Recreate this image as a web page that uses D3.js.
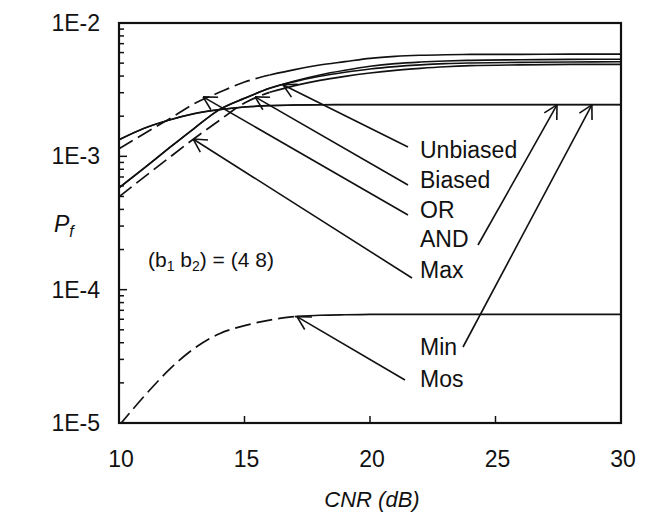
<!DOCTYPE html>
<html><head><meta charset="utf-8">
<script src="https://cdn.jsdelivr.net/npm/d3@7"></script>
<style>
html,body{margin:0;padding:0;background:#fff;}
text{font-family:"Liberation Sans",Arial,Helvetica,sans-serif;fill:#111;}
</style></head>
<body><svg id="chart" width="649" height="516"></svg>
<script>
// ---- data ----
const cnrDb = [10,11,12,13,14,15,16,17,18,19,20,21,22,23,24,26,28,30];
const unbiased = [5.81e-4,8.17e-4,1.156e-3,1.622e-3,2.239e-3,2.723e-3,3.236e-3,3.673e-3,4.074e-3,4.416e-3,4.732e-3,4.955e-3,5.093e-3,5.188e-3,5.248e-3,5.297e-3,5.333e-3,5.346e-3];
const biased   = [5.81e-4,8.17e-4,1.156e-3,1.622e-3,2.239e-3,2.723e-3,3.236e-3,3.631e-3,3.981e-3,4.266e-3,4.519e-3,4.710e-3,4.853e-3,4.955e-3,5.012e-3,5.070e-3,5.105e-3,5.117e-3];
const orRule   = [1.138e-3,1.479e-3,1.905e-3,2.483e-3,3.020e-3,3.606e-3,4.074e-3,4.467e-3,4.842e-3,5.129e-3,5.433e-3,5.623e-3,5.728e-3,5.781e-3,5.808e-3,5.821e-3,5.834e-3,5.834e-3];
const andRule  = [1.33e-3,1.622e-3,1.871e-3,2.089e-3,2.239e-3,2.344e-3,2.399e-3,2.427e-3,2.438e-3,2.443e-3,2.443e-3,2.443e-3,2.443e-3,2.443e-3,2.443e-3,2.443e-3,2.443e-3,2.443e-3];
const maxRule  = [4.977e-4,6.982e-4,9.772e-4,1.361e-3,1.862e-3,2.512e-3,3.020e-3,3.388e-3,3.715e-3,3.981e-3,4.217e-3,4.416e-3,4.571e-3,4.699e-3,4.786e-3,4.853e-3,4.887e-3,4.898e-3];
const minRule  = [1.33e-3,1.622e-3,1.871e-3,2.089e-3,2.239e-3,2.344e-3,2.399e-3,2.427e-3,2.438e-3,2.443e-3,2.443e-3,2.443e-3,2.443e-3,2.443e-3,2.443e-3,2.443e-3,2.443e-3,2.443e-3];
const mosRule  = [9.55e-6,1.585e-5,2.512e-5,3.631e-5,4.677e-5,5.370e-5,5.916e-5,6.281e-5,6.427e-5,6.486e-5,6.516e-5,6.531e-5,6.531e-5,6.531e-5,6.531e-5,6.531e-5,6.531e-5,6.531e-5];
const xTicks = [10,15,20,25,30];
const yTickLabels = ["1E-5","1E-4","1E-3","1E-2"];
const yDecades = [1e-5,1e-4,1e-3,1e-2];
// arrow tips [dB, Pf]
const tipUnbiased = [16.53, 3.44e-3], tipBiased = [15.42, 2.79e-3], tipOR = [13.35, 2.79e-3],
      tipMax = [12.95, 1.35e-3], tipAND = [27.45, 2.43e-3], tipMin = [28.84, 2.43e-3], tipMos = [17.09, 6.28e-5];

// ---- layout ----
const svg = d3.select("#chart");
const L = 119, R = 621, T = 23, B = 423;
const x = d3.scaleLinear().domain([10,30]).range([L,R]);
const y = d3.scaleLog().domain([1e-5,1e-2]).range([B,T]);

svg.append("clipPath").attr("id","clip").append("rect")
  .attr("x",L).attr("y",T).attr("width",R-L).attr("height",B-T);

const line = d3.line().x(d=>x(d[0])).y(d=>y(d[1])).curve(d3.curveMonotoneX);
const g = svg.append("g").attr("clip-path","url(#clip)");

function drawSeries(vals, dashUntil, sw){
  const pts = cnrDb.map((d,i)=>[d, vals[i]]);
  if (dashUntil == null) {
    g.append("path").attr("d", line(pts)).attr("fill","none").attr("stroke","#111").attr("stroke-width",sw||1.6);
  } else {
    const a = pts.filter(p=>p[0]<=dashUntil), b = pts.filter(p=>p[0]>=dashUntil);
    g.append("path").attr("d", line(a)).attr("fill","none").attr("stroke","#111").attr("stroke-width",sw||1.6).attr("stroke-dasharray","16,6");
    g.append("path").attr("d", line(b)).attr("fill","none").attr("stroke","#111").attr("stroke-width",sw||1.6);
  }
}
drawSeries(andRule, null, 1.7);
drawSeries(minRule, null, 1.3);
drawSeries(unbiased, null, 1.6);
drawSeries(biased, null, 1.6);
drawSeries(orRule, 16, 1.7);
drawSeries(maxRule, 16, 1.7);
drawSeries(mosRule, 17, 1.7);

// ---- frame & axes ----
svg.append("rect").attr("x",L).attr("y",T).attr("width",R-L).attr("height",B-T)
  .attr("fill","none").attr("stroke","#111").attr("stroke-width",2.2);

// left ticks (inside)
const minorTicks = [];
yDecades.slice(0,3).forEach(dec=>{ for(let k=2;k<=9;k++) minorTicks.push(dec*k); });
svg.selectAll(".ymin").data(minorTicks).join("line")
  .attr("x1",L).attr("x2",L+5).attr("y1",d=>y(d)).attr("y2",d=>y(d))
  .attr("stroke","#111").attr("stroke-width",1.5);
svg.selectAll(".ymaj").data(yDecades).join("line")
  .attr("x1",L).attr("x2",L+8).attr("y1",d=>y(d)).attr("y2",d=>y(d))
  .attr("stroke","#111").attr("stroke-width",1.5);
svg.selectAll(".ylab").data(yDecades).join("text")
  .attr("x",L-19).attr("y",d=>y(d)+8).attr("text-anchor","end")
  .attr("font-size",23).text((d,i)=>yTickLabels[i]);

// bottom ticks (inside)
svg.selectAll(".xt").data(xTicks.slice(1,-1)).join("line")
  .attr("x1",d=>x(d)).attr("x2",d=>x(d)).attr("y1",B).attr("y2",B-7)
  .attr("stroke","#111").attr("stroke-width",1.5);
svg.selectAll(".xlab").data(xTicks).join("text")
  .attr("x",d=>x(d)+2).attr("y",467).attr("text-anchor","middle")
  .attr("font-size",23).text(d=>d);

// axis titles
svg.append("text").attr("x",372).attr("y",507).attr("text-anchor","middle")
  .attr("font-size",22).attr("font-style","italic").text("CNR (dB)");
const pf = svg.append("text").attr("x",54).attr("y",232).attr("font-size",23).attr("font-style","italic");
pf.append("tspan").text("P");
pf.append("tspan").attr("font-size",16).attr("dy",5).text("f");

// (b1 b2) = (4 8)
const bt = svg.append("text").attr("x",148).attr("y",267).attr("font-size",21);
bt.append("tspan").text("(b");
bt.append("tspan").attr("font-size",14).attr("dy",4).text("1");
bt.append("tspan").attr("dy",-4).text(" b");
bt.append("tspan").attr("font-size",14).attr("dy",4).text("2");
bt.append("tspan").attr("dy",-4).text(") = (4 8)");

// ---- annotations ----
const notes = [
  {label:"Unbiased", tx:420, ty:158, tip:tipUnbiased, ex:408, ey:147},
  {label:"Biased",   tx:420, ty:188, tip:tipBiased,   ex:408, ey:185},
  {label:"OR",       tx:420, ty:218, tip:tipOR,       ex:408, ey:215},
  {label:"AND",      tx:420, ty:247, tip:tipAND,      ex:478, ey:245},
  {label:"Max",      tx:420, ty:278, tip:tipMax,      ex:412, ey:278},
  {label:"Min",      tx:420, ty:355, tip:tipMin,      ex:463, ey:347},
  {label:"Mos",      tx:420, ty:387, tip:tipMos,      ex:405, ey:380}
];
notes.forEach(n=>{
  const px = x(n.tip[0]), py = y(n.tip[1]);
  svg.append("line").attr("x1",n.ex).attr("y1",n.ey).attr("x2",px).attr("y2",py)
    .attr("stroke","#111").attr("stroke-width",1.6);
  const ang = Math.atan2(n.ey-py, n.ex-px);
  const len = 15, sp = 0.5;
  [ang-sp, ang+sp].forEach(a=>{
    svg.append("line").attr("x1",px).attr("y1",py)
      .attr("x2",px+len*Math.cos(a)).attr("y2",py+len*Math.sin(a))
      .attr("stroke","#111").attr("stroke-width",1.6);
  });
  svg.append("text").attr("x",n.tx).attr("y",n.ty).attr("font-size",23).text(n.label);
});
</script></body></html>
